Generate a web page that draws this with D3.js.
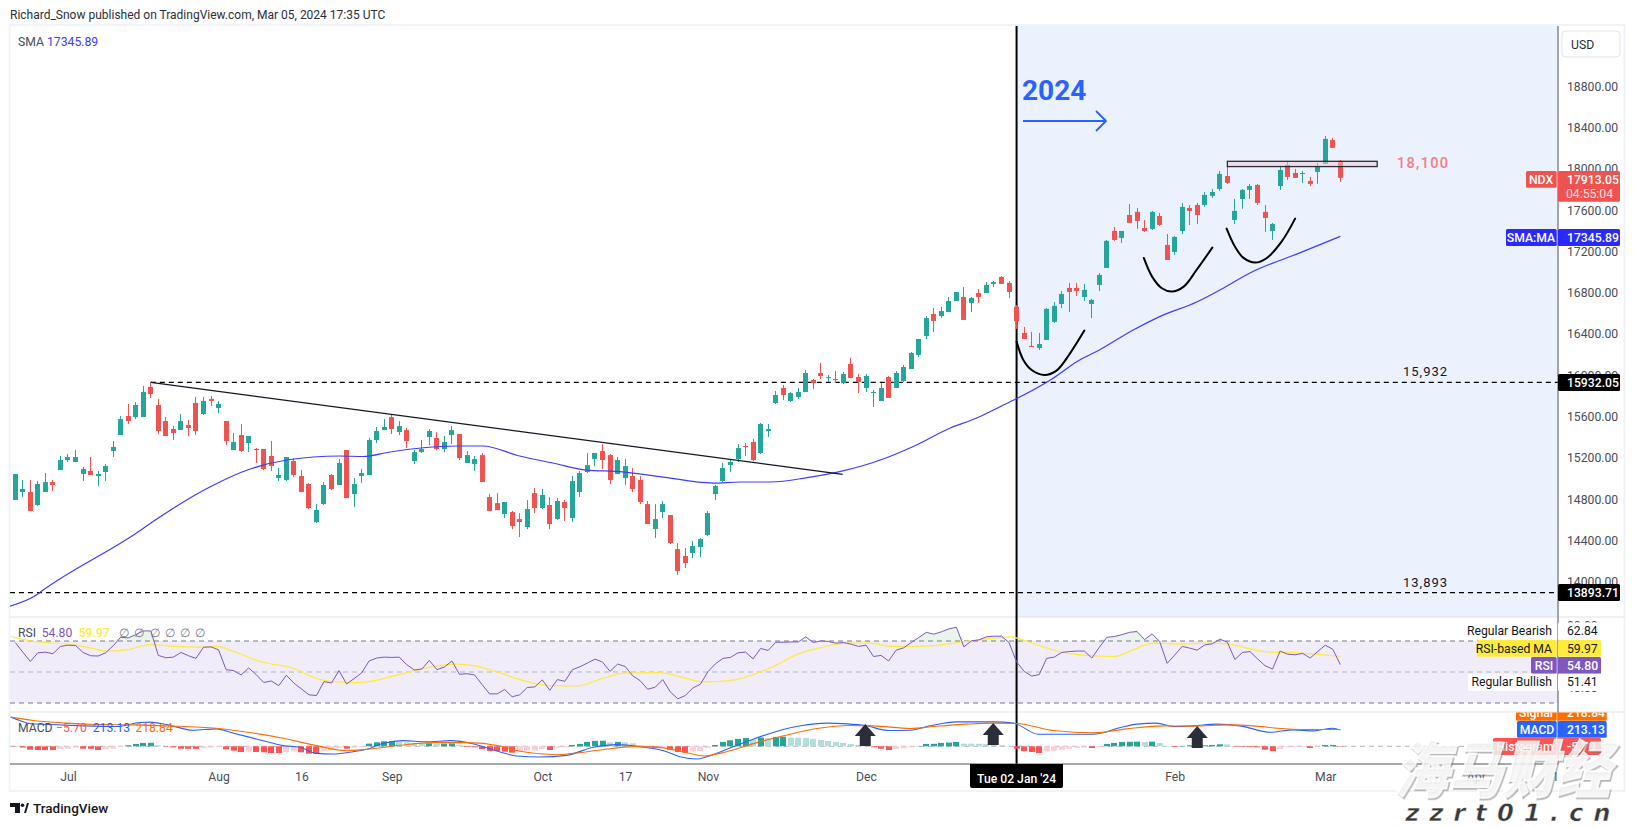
<!DOCTYPE html>
<html>

<head>
    <meta charset="utf-8">
    <script src="https://d3js.org/d3.v7.min.js"></script>
    <title>NDX daily</title>
    <style>
        body { margin: 0; background: #fff; }
        svg { display: block; }
        text { font-family: Roboto, sans-serif; }
        .axis text { font-family: Roboto, sans-serif; font-size: 12.2px; fill: #4a4d58; }
        .axis path, .axis line { display: none; }
    </style>
</head>

<body>
    <div id="chart"></div>
</body>

<script>
    // daily candles
    const opens = [14792,14869,14869,14743,14869,14966,15082,15179,15160,15044,15073,15024,15063,15266,15421,15606,15596,15596,15887,15712,
        15557,15480,15470,15518,15732,15625,15770,15683,15557,15276,15421,15344,15286,15286,15218,15005,14985,15170,15024,14947,
        14578,14753,15034,14937,15276,14849,15024,15033,15373,15469,15595,15450,15469,15169,15256,15402,15392,15285,15421,15431,
        15150,15140,15227,14820,14762,14656,14675,14607,14530,14859,14714,14743,14607,14772,14617,14869,15063,15188,15266,15227,
        15043,15004,15024,14985,14752,14510,14675,14646,14316,14249,14278,14336,14452,14849,14976,15131,15189,15315,15354,15247,
        15460,15731,15877,15751,15790,15838,15954,16022,15974,15964,15925,16109,15983,15877,15828,15751,15983,15877,15945,16061,
        16197,16381,16594,16574,16613,16720,16759,16700,16797,16797,16885,16953,16895,16662,16410,16284,16265,16342,16517,16691,
        16846,16846,16759,16691,16875,17040,17398,17331,17553,17583,17427,17418,17544,17263,17195,17398,17621,17650,17650,17738,
        17805,17931,17505,17708,17796,17844,17583,17398,17834,18038,17960,17951,17883,17970,18048,18280,18077];
    const highs = [15044,14985,14985,14976,15053,14985,15218,15237,15276,15111,15208,15073,15140,15363,15606,15722,15741,15896,15935,15770,
        15596,15509,15625,15567,15790,15790,15799,15751,15557,15441,15528,15412,15295,15286,15363,15102,15208,15199,15082,14956,
        14753,14966,15044,15189,15276,15004,15092,15392,15499,15576,15615,15557,15489,15276,15373,15479,15450,15411,15508,15431,
        15266,15218,15247,14849,14859,14772,14685,14665,14791,14907,14898,14820,14811,14791,15024,15072,15247,15247,15334,15237,
        15208,15188,15101,15024,14782,14752,14782,14646,14375,14326,14394,14423,14685,14937,15150,15189,15334,15344,15383,15538,
        15528,15848,15906,15838,15877,16051,15964,16119,16003,16042,16032,16167,16012,16012,15857,15925,15993,16042,16100,16226,
        16352,16574,16652,16662,16759,16807,16855,16759,16836,16904,16914,16962,16914,16681,16468,16420,16410,16652,16710,16817,
        16895,16895,16885,16739,16991,17311,17437,17398,17660,17621,17505,17592,17573,17369,17350,17670,17650,17670,17776,17805,
        17980,18028,17708,17805,17854,17854,17650,17476,18019,18077,17999,17980,17922,18057,18319,18300,18086];
    const lows = [14792,14821,14685,14733,14869,14879,15082,15160,15160,14976,15034,14927,14976,15208,15421,15528,15576,15596,15780,15431,
        15412,15373,15470,15412,15421,15615,15702,15635,15325,15276,15257,15257,15150,15082,15073,14976,14976,15014,14869,14704,
        14569,14743,14888,14937,14811,14723,14956,15033,15344,15469,15431,15421,15295,15140,15247,15324,15276,15256,15334,15179,
        15150,15072,14966,14685,14694,14617,14510,14433,14510,14665,14704,14510,14597,14588,14578,14820,15053,15121,15092,14946,
        15043,14937,14869,14752,14559,14423,14617,14365,14065,14132,14229,14239,14442,14791,14966,15063,15160,15218,15169,15237,
        15402,15722,15760,15741,15770,15838,15867,15964,15935,15925,15916,15974,15828,15838,15693,15751,15780,15877,15935,16061,
        16177,16352,16419,16555,16613,16720,16536,16613,16700,16797,16855,16885,16749,16449,16352,16274,16245,16342,16507,16652,
        16614,16769,16720,16555,16817,17040,17302,17282,17476,17418,17389,17408,17447,17117,17166,17369,17457,17466,17631,17718,
        17786,17854,17466,17612,17708,17650,17389,17311,17796,17893,17912,17864,17834,17854,18048,18203,17873];
    const closes = [15044,14898,14685,14947,14966,14937,15179,15208,15208,15092,15034,15044,15121,15305,15576,15557,15712,15838,15819,15460,
        15412,15441,15557,15489,15460,15751,15751,15722,15363,15354,15266,15412,15276,15092,15121,15034,15208,15034,14869,14714,
        14695,14937,14898,15150,14811,14946,15053,15373,15460,15499,15479,15508,15363,15256,15285,15460,15285,15353,15469,15198,
        15227,15188,14966,14685,14694,14772,14539,14578,14704,14714,14840,14559,14782,14714,14975,15053,15130,15247,15179,14985,
        15179,15121,14898,14772,14559,14607,14752,14375,14103,14181,14346,14413,14665,14927,15102,15160,15295,15305,15179,15528,
        15479,15809,15809,15828,15838,16022,15925,15993,15983,15954,16012,15974,15935,15993,15838,15877,15780,16022,16080,16216,
        16352,16555,16526,16623,16720,16807,16536,16749,16759,16875,16904,16885,16807,16526,16352,16274,16303,16643,16672,16788,
        16807,16817,16827,16730,16972,17302,17311,17398,17476,17495,17398,17583,17457,17117,17340,17631,17592,17553,17747,17776,
        17951,17864,17592,17796,17834,17670,17524,17466,17989,17922,17912,17960,17854,18028,18290,18203,17913];

    // SMA, sampled along the line as [candle index, price]
    const smaPoints = [[-0.7,13764],[2.8,13871],[3.7,13919],[16,14467],[18.6,14598],[25.9,14920],[31.2,15092],[36.1,15179],[43.1,15218],[46.2,15213],
        [49.8,15257],[54.2,15298],[58.7,15315],[62.1,15315],[67,15218],[71.4,15150],[75.9,15082],[80.3,15066],[85.6,15019],[92.7,14956],
        [96.3,14966],[100.3,14966],[105.2,15008],[109.5,15066],[114.9,15179],[119.2,15308],[124.2,15489],[127.7,15586],[130.8,15696],[132.9,15770],
        [137.7,15964],[141,16132],[144,16245],[148.5,16439],[152,16568],[157,16713],[160,16826],[164,16991],[170.7,17188],[176,17346]];

    // one RSI value per candle
    const rsiValues = [69.0,62.8,56.8,62.4,62.8,61.8,66.5,67.3,67.1,62.6,60.5,60.3,62.4,66.9,72.4,72.0,74.1,76.5,76.5,60.7,
        59.2,59.6,62.6,60.5,58.8,66.0,66.2,64.3,51.5,50.9,48.1,52.6,48.3,43.2,44.2,41.2,47.9,42.9,39.1,35.3,
        34.8,43.8,42.9,50.9,42.3,45.7,49.4,57.1,59.0,59.6,59.4,59.6,54.7,51.3,51.9,57.5,51.5,53.2,57.1,48.5,
        48.9,48.1,41.9,35.9,35.9,38.7,34.0,35.3,40.0,40.4,44.9,38.2,45.1,44.0,51.5,53.4,55.8,58.3,56.4,50.4,
        55.1,53.6,47.6,44.4,38.9,40.2,45.1,37.2,32.7,34.8,39.7,42.1,50.2,55.3,58.8,59.4,62.4,62.8,58.5,65.2,
        63.9,69.2,69.2,69.4,69.4,72.7,69.0,70.1,69.7,68.6,69.0,68.0,66.5,67.3,60.0,60.7,57.1,64.1,65.6,69.0,
        72.2,75.6,74.4,75.9,77.8,78.9,66.2,70.1,70.7,72.7,73.1,73.1,69.0,56.6,50.4,47.4,48.3,58.8,59.6,62.6,
        63.2,63.5,63.5,59.0,66.0,72.4,72.9,74.1,75.6,76.1,70.9,74.6,69.7,55.6,60.9,66.5,65.4,64.1,67.5,68.2,
        71.2,69.2,58.1,62.6,63.2,58.5,54.1,51.9,63.5,61.5,61.1,62.0,59.0,63.2,67.3,64.7,54.8];
    const rsiMaPoints = [[-0.6,72.9],[2.4,69.7],[6.8,68.0],[9.5,66.0],[12.1,63.5],[14.8,64.3],[17.9,67.7],[21,66.5],[24.5,66.0],[26.7,66.5],
        [29,63.2],[32.5,56.8],[36.9,52.4],[40.5,45.1],[44,43.2],[45.8,43.2],[51.1,48.5],[55.1,53.2],[58.6,55.1],[60.9,54.1],
        [64.4,49.4],[67,45.1],[71,41.2],[74.6,41.0],[77.7,45.5],[81.2,49.4],[85.7,49.6],[88.3,46.8],[91.4,43.6],[94.9,44.4],
        [99.8,51.5],[104.3,62.2],[106.9,65.6],[110.5,68.6],[113.5,68.6],[116.6,66.5],[121.5,66.9],[125.5,69.2],[129.9,71.8],[132.2,72.7],
        [134.4,69.7],[138.8,63.0],[142.3,60.7],[145.9,60.0],[148.5,64.3],[151.2,68.6],[154.7,68.0],[158.3,68.6],[161,68.2],[163.6,65.4],
        [166.7,62.8],[170.2,62.4],[176,60.0]];

    // MACD histogram per candle, lines sampled as [candle index, value]
    const histValues = [-4,-17,-44,-48,-48.5,-49,-35,-31,-17,-31,-32,-48,-39,-31,-9,13,31,44,45,13,
        -4,-13,-31,-32,-33,-22,-17,-13,-39,-57,-74,-70,-74,-78,-87,-88,-74,-65,-78,-96,
        -97,-65,-52,-22,-31,-17,-9,35,52,65,66,61,52,44,35,39,31,35,37,17,
        -9,-13,-35,-61,-63,-70,-83,-65,-57,-56,-35,-48,-17,-13,17,31,57,70,72,52,
        57,52,39,13,-13,-17,-9,-44,-74,-83,-65,-61,-22,17,57,78,96,109,87,113,
        105,122,124,113,112,109,96,83,70,57,44,31,17,13,-13,-31,-48,-35,-26,-13,
        4,31,32,44,48,57,35,34,33,31,30,13,4,-30,-61,-74,-87,-65,-57,-44,
        -31,-22,-17,-22,-9,31,44,57,59,61,57,61,44,4,-9,4,13,-9,13,17,
        26,25,-4,-9,-10,-13,-44,-61,-35,-13,-12,-11,-22,-4,17,18,-5.7];
    const macdPoints = [[-0.6,379],[0.6,336],[1.9,296],[4.6,283],[9,266],[13.5,257],[16.6,310],[17.9,314],[20.1,283],[23.6,209],
        [26.7,227],[29,170],[32.5,83],[35.6,9],[37.8,-13],[40,-92],[42.2,-100],[44.9,-70],[46.7,-39],[48.9,39],
        [51.5,74],[54.7,57],[57.8,74],[60.9,31],[64.4,-74],[66.6,-126],[69.7,-140],[73.2,-118],[76.8,-13],[79.9,22],
        [83,-4],[86.1,-57],[88.3,-135],[90.5,-166],[91.9,-135],[95.4,-4],[98,92],[101.1,192],[104.3,266],[107.8,301],
        [110.5,292],[112.9,270],[116,205],[118.9,209],[121.5,266],[125,318],[129.9,318],[132.6,301],[135.9,157],[138.8,157],
        [143.2,157],[146.8,244],[149,288],[151.6,301],[153.8,257],[156.5,266],[159.6,288],[162.7,266],[166.7,183],[169.8,214],
        [172.4,201],[175,235],[176,213]];
    const signalPoints = [[-0.6,379],[2.4,336],[6.8,301],[11.2,283],[15.7,279],[20.1,266],[26.7,235],[31.2,179],[35.6,105],[40,9],
        [44,-57],[46.7,-39],[51.1,13],[55.5,48],[60,48],[64.4,4],[67,-65],[71.9,-109],[74.1,-92],[77.7,-48],
        [82.1,-4],[85.7,-17],[89.2,-83],[91.4,-126],[94.5,-70],[98.5,48],[102.5,148],[106.5,231],[110.9,270],[114,266],
        [118.9,231],[122,257],[126.4,288],[129.9,301],[133,296],[137.9,205],[143.2,174],[147.6,227],[152.5,266],[156.5,262],
        [161,279],[164.5,266],[167.6,235],[171.6,218],[176,219]];

    // drawings on the chart, [candle index, price]
    const trendLine = [[18,15932],[109.9,15040]];
    const cupOne = [[133,16326],[133.9,16148],[135,16051],[136.7,16003],[138.3,16045],[140.1,16213],[142,16433]];
    const cupTwo = [[149.9,17137],[151,16956],[152.3,16843],[153.6,16811],[155.2,16859],[156.9,17020],[159,17237]];
    const cupThree = [[160.9,17421],[162,17247],[163.1,17140],[164.7,17092],[166.2,17134],[168.2,17295],[170,17518]];
    const arrowIndexes = [112.9,129.9,157];

    // tick labels
    const priceTicks = [18800,18400,18000,17600,17200,16800,16400,16000,15600,15200,14800,14400,14000];
    const rsiTicks = [80,40];
    const dateTickIndexes = [7,27,38,50,70,81,92,113,154,174,194,204.5];
    const dateTickLabels = ["Jul","Aug","16","Sep","Oct","17","Nov","Dec","Feb","Mar","Apr","1"];

    const width = 1634, height = 827;
    const paneLeft = 10, axisX = 1558, paneRight = 1625;
    const paneTop = 26, rsiTop = 617, macdTop = 712, paneBottom = 764;
    const jan2 = 133;

    const UP = "#26a69a", DOWN = "#ef5350";

    const svg = d3.select("#chart").append("svg").attr("width", width).attr("height", height);

    const x = d3.scaleLinear().domain([0, 176]).range([15.3, 1340.3]);
    const y = d3.scaleLinear().domain([15932.05, 13893.71]).range([382.3, 592.7]);
    const yRsi = d3.scaleLinear().domain([30, 70]).range([703, 641]);
    const yMacd = d3.scaleLinear().domain([0, 213.13]).range([746.3, 729.9]);

    svg.append("clipPath").attr("id", "panes").append("rect")
        .attr("x", paneLeft).attr("y", paneTop).attr("width", axisX - paneLeft).attr("height", paneBottom - paneTop);
    svg.append("clipPath").attr("id", "macdPane").append("rect")
        .attr("x", paneLeft).attr("y", macdTop + 0.5).attr("width", paneRight - paneLeft).attr("height", paneBottom - macdTop);

    // pane backgrounds
    svg.append("rect").attr("x", x(jan2)).attr("y", paneTop).attr("width", axisX - x(jan2)).attr("height", rsiTop - paneTop).attr("fill", "#ebf1fd");
    svg.append("rect").attr("x", paneLeft).attr("y", yRsi(70)).attr("width", axisX - paneLeft).attr("height", yRsi(30) - yRsi(70)).attr("fill", "#f0ecf9");

    // frame
    const frame = svg.append("g").attr("stroke", "#e0e3eb").attr("fill", "none");
    frame.append("rect").attr("x", paneLeft - 0.5).attr("y", paneTop - 1).attr("width", paneRight - paneLeft).attr("height", 766).attr("stroke", "#f0f3fa").attr("stroke-width", 2);
    frame.append("line").attr("x1", paneLeft).attr("x2", paneRight).attr("y1", rsiTop).attr("y2", rsiTop);
    frame.append("line").attr("x1", paneLeft).attr("x2", paneRight).attr("y1", macdTop).attr("y2", macdTop);

    // vertical marker, sits under the candles
    svg.append("line").attr("x1", x(jan2)).attr("x2", x(jan2)).attr("y1", paneTop).attr("y2", paneBottom)
        .attr("stroke", "#000").attr("stroke-width", 2);

    const plot = svg.append("g").attr("clip-path", "url(#panes)");

    // horizontal levels
    const dashed = (yPos, x1, color, dash, sw) => plot.append("line")
        .attr("x1", x1).attr("x2", axisX).attr("y1", yPos).attr("y2", yPos)
        .attr("stroke", color).attr("stroke-width", sw).attr("stroke-dasharray", dash);
    dashed(y(15932.05), x(18), "#000", "5 4", 1.3);
    dashed(y(13893.71), paneLeft, "#000", "5 4", 1.3);
    dashed(yRsi(70), paneLeft, "#787b86", "5 4", 1);
    dashed(yRsi(50), paneLeft, "#b2b5be", "5 4", 1);
    dashed(yRsi(30), paneLeft, "#787b86", "5 4", 1);
    dashed(yMacd(0), paneLeft, "#b2b5be", "5 4", 1);

    // candles
    const candles = plot.append("g").selectAll("g").data(opens).enter().append("g")
        .attr("fill", (d, i) => closes[i] >= d ? UP : DOWN);
    candles.append("rect")
        .attr("x", (d, i) => Math.round(x(i) - 0.5)).attr("width", 1)
        .attr("y", (d, i) => y(highs[i]))
        .attr("height", (d, i) => y(lows[i]) - y(highs[i]));
    candles.append("rect")
        .attr("x", (d, i) => Math.round(x(i) - 0.5) - 2).attr("width", 5)
        .attr("y", (d, i) => y(Math.max(d, closes[i])))
        .attr("height", (d, i) => Math.max(1, Math.abs(y(d) - y(closes[i]))));

    const priceLine = d3.line().x(d => x(d[0])).y(d => y(d[1]));

    plot.append("path").datum(smaPoints).attr("fill", "none").attr("stroke", "#3f3bff").attr("stroke-width", 1.2)
        .attr("d", priceLine.curve(d3.curveMonotoneX));

    // trend line and the 18,100 box
    plot.append("path").datum(trendLine).attr("fill", "none").attr("stroke", "#131722").attr("stroke-width", 1.2)
        .attr("d", priceLine.curve(d3.curveLinear));
    plot.append("rect").attr("x", x(161)).attr("width", x(180.9) - x(161))
        .attr("y", y(18073)).attr("height", y(18022) - y(18073))
        .attr("fill", "#f2c9d5").attr("fill-opacity", 0.5).attr("stroke", "#2a2e39").attr("stroke-width", 1.3);

    // hand drawn cups
    [cupOne, cupTwo, cupThree].forEach(cup => {
        plot.append("path").datum(cup).attr("fill", "none").attr("stroke", "#000").attr("stroke-width", 2).attr("stroke-linecap", "round")
            .attr("d", priceLine.curve(d3.curveCatmullRom));
    });

    // RSI pane
    const rsiLine = d3.line().x((d, i) => x(i)).y(d => yRsi(d));
    const rsiArea = d3.area().x((d, i) => x(i)).y0(yRsi(70)).y1(d => yRsi(Math.max(d, 70)));
    plot.append("path").datum(rsiValues).attr("fill", "#4caf50").attr("fill-opacity", 0.12).attr("d", rsiArea);
    plot.append("path").datum(rsiMaPoints).attr("fill", "none").attr("stroke", "#ffeb3b").attr("stroke-width", 1.2)
        .attr("d", d3.line().x(d => x(d[0])).y(d => yRsi(d[1])).curve(d3.curveMonotoneX));
    plot.append("path").datum(rsiValues).attr("fill", "none").attr("stroke", "#7e57c2").attr("stroke-width", 1).attr("d", rsiLine);

    // MACD pane
    const histColor = (d, i) => {
        const prev = i > 0 ? histValues[i - 1] : d;
        if (d >= 0) return prev < d ? "#26a69a" : "#b2dfdb";
        return prev < d ? "#ffcdd2" : "#ff5252";
    };
    plot.append("g").selectAll("rect").data(histValues).enter().append("rect")
        .attr("x", (d, i) => Math.round(x(i) - 3)).attr("width", 6)
        .attr("y", d => Math.min(yMacd(d), yMacd(0)))
        .attr("height", d => Math.abs(yMacd(d) - yMacd(0)))
        .attr("fill", histColor);
    const macdLine = d3.line().x(d => x(d[0])).y(d => yMacd(d[1])).curve(d3.curveMonotoneX);
    plot.append("path").datum(macdPoints).attr("fill", "none").attr("stroke", "#2962ff").attr("stroke-width", 1.1).attr("d", macdLine);
    plot.append("path").datum(signalPoints).attr("fill", "none").attr("stroke", "#ff6d00").attr("stroke-width", 1.1).attr("d", macdLine);

    svg.append("g").selectAll("path").data(arrowIndexes).enter().append("path")
        .attr("transform", (d, i) => `translate(${x(d)},${[724, 723, 726][i]})`)
        .attr("fill", "#2a2e39")
        .attr("d", "M0 0L10.5 12H5.5V22H-5.5V12H-10.5Z");

    // axis lines
    svg.append("line").attr("x1", axisX).attr("x2", axisX).attr("y1", paneTop).attr("y2", paneBottom).attr("stroke", "#50535e").attr("stroke-width", 1);
    svg.append("line").attr("x1", paneLeft).attr("x2", axisX).attr("y1", paneBottom).attr("y2", paneBottom).attr("stroke", "#50535e").attr("stroke-width", 1);

    svg.append("g").attr("class", "axis").attr("transform", `translate(${axisX},0)`)
        .call(d3.axisRight(y).tickValues(priceTicks).tickFormat(d3.format(".2f")).tickSize(0).tickPadding(9));
    svg.append("g").attr("class", "axis").attr("transform", `translate(${axisX},0)`)
        .call(d3.axisRight(yRsi).tickValues(rsiTicks).tickFormat(d3.format(".2f")).tickSize(0).tickPadding(9));
    svg.append("g").attr("class", "axis").attr("transform", `translate(0,${paneBottom})`)
        .call(d3.axisBottom(x).tickValues(dateTickIndexes).tickFormat((d, i) => dateTickLabels[i]).tickSize(0).tickPadding(8));

    const label = (str, xPos, yPos, opts = {}) => svg.append("text").text(str)
        .attr("x", xPos).attr("y", yPos)
        .attr("dy", "0.35em")
        .attr("font-size", opts.size || 12.2)
        .attr("fill", opts.color || "#131722")
        .attr("font-weight", opts.weight || 400)
        .attr("text-anchor", opts.anchor || "start")
        .attr("letter-spacing", opts.spacing || 0)
        .attr("opacity", opts.opacity || 1)
        .attr("clip-path", opts.clip || null);

    const box = (x0, x1, y0, y1, fill, clip) => svg.append("rect")
        .attr("x", x0).attr("y", y0).attr("width", x1 - x0).attr("height", y1 - y0)
        .attr("fill", fill).attr("rx", 1.5)
        .attr("clip-path", clip || null);

    // header and pane legends
    label("Richard_Snow published on TradingView.com, Mar 05, 2024 17:35 UTC", 10, 15, { size: 12, color: "#2a2e39" });
    label("SMA", 18, 41.5, { color: "#4a4d58" });
    label("17345.89", 47, 41.5, { color: "#3f3bff" });
    label("RSI", 18, 632.7, { color: "#4a4d58" });
    label("54.80", 41.7, 632.7, { color: "#7e57c2" });
    label("59.97", 78.7, 632.7, { color: "#ffeb3b", weight: 500 });
    [119, 134, 150, 165, 180, 195].forEach(p => label("∅", p, 632.7, { color: "#787b86" }));
    label("MACD", 18, 727.7, { color: "#4a4d58" });
    label("−5.70", 56, 727.7, { color: "#ff5252" });
    label("213.13", 92.7, 727.7, { color: "#2962ff" });
    label("218.84", 135.3, 727.7, { color: "#ff6d00" });

    // annotations
    label("2024", 1022, 90, { size: 28, weight: 700, color: "#2962ff" });
    svg.append("path").attr("fill", "none").attr("stroke", "#2962ff").attr("stroke-width", 1.8).attr("stroke-linejoin", "round")
        .attr("d", "M1023 121H1106M1096 111L1106 121L1096 131");
    label("18,100", 1397, 163, { size: 14.5, color: "#f77c80", spacing: 1.3, weight: 500 });
    label("15,932", 1403, 371, { size: 13, color: "#131722", spacing: 1 });
    label("13,893", 1403, 582.5, { size: 13, color: "#131722", spacing: 1 });

    // USD button
    svg.append("rect").attr("x", 1562).attr("y", 31).attr("width", 58).attr("height", 26).attr("rx", 4)
        .attr("fill", "#fff").attr("stroke", "#e0e3eb");
    label("USD", 1571, 44.5, { color: "#2a2e39" });

    // price scale tags
    box(1526, 1556.7, 171, 187.7, DOWN);
    label("NDX", 1541, 179.5, { color: "#fff", weight: 500, anchor: "middle" });
    box(1558, 1620, 171, 201.7, DOWN);
    label("17913.05", 1567, 179.5, { color: "#fff", weight: 500 });
    label("04:55:04", 1566, 193.7, { color: "#fff", opacity: 0.8 });

    box(1506, 1556.7, 229, 246, "#2a2aff");
    label("SMA:MA", 1531, 237.5, { color: "#fff", weight: 500, anchor: "middle" });
    box(1558, 1620, 229, 246, "#2a2aff");
    label("17345.89", 1567, 237.5, { color: "#fff", weight: 500 });

    box(1558, 1620, 374, 391, "#000");
    label("15932.05", 1567, 382.5, { color: "#fff", weight: 500 });
    box(1558, 1620, 584, 601, "#000");
    label("13893.71", 1567, 592.5, { color: "#fff", weight: 500 });

    // RSI tags
    box(1466, 1557, 622.5, 640, "#fff");
    box(1558, 1601, 622.5, 640, "#fff");
    label("Regular Bearish", 1552, 631, { color: "#131722", anchor: "end" });
    label("62.84", 1567, 631, { color: "#131722" });
    box(1477, 1556.7, 640, 656.7, "#ffeb3b");
    label("RSI-based MA", 1552, 648.5, { color: "#131722", anchor: "end" });
    box(1558, 1601, 640, 656.7, "#ffeb3b");
    label("59.97", 1567, 648.5, { color: "#131722" });
    box(1531, 1556.7, 657, 673.7, "#7e57c2");
    label("RSI", 1544, 665.5, { color: "#fff", weight: 500, anchor: "middle" });
    box(1558, 1601, 657, 673.7, "#7e57c2");
    label("54.80", 1567, 665.5, { color: "#fff", weight: 500 });
    box(1468, 1557, 673.7, 691, "#fff");
    box(1558, 1601, 673.7, 691, "#fff");
    label("Regular Bullish", 1552, 682, { color: "#131722", anchor: "end" });
    label("51.41", 1567, 682, { color: "#131722" });

    // MACD tags, the top one is cut by the pane edge
    box(1516, 1556.7, 704, 720.7, "#ff6d00", "url(#macdPane)");
    label("Signal", 1536, 712.5, { color: "#fff", weight: 500, anchor: "middle", clip: "url(#macdPane)" });
    box(1558, 1606.7, 704, 720.7, "#ff6d00", "url(#macdPane)");
    label("218.84", 1567, 712.5, { color: "#fff", weight: 500, clip: "url(#macdPane)" });
    box(1517, 1556.7, 721, 737.7, "#2962ff");
    label("MACD", 1537, 729.5, { color: "#fff", weight: 500, anchor: "middle" });
    box(1558, 1606.7, 721, 737.7, "#2962ff");
    label("213.13", 1567, 729.5, { color: "#fff", weight: 500 });
    box(1493, 1556.7, 738, 755, "#ff5252");
    label("Histogram", 1525, 746.5, { color: "#fff", weight: 500, anchor: "middle" });
    box(1558, 1601, 738, 755, "#ff5252");
    label("-5.70", 1567, 746.5, { color: "#fff", weight: 500 });

    // crosshair date
    svg.append("path").attr("fill", "#000").attr("d", "M970 764H1063V786a2 2 0 0 1 -2 2H972a2 2 0 0 1 -2 -2Z");
    label("Tue 02 Jan '24", x(jan2), 778.5, { color: "#fff", anchor: "middle", weight: 500 });

    // TradingView mark
    const logo = svg.append("g").attr("fill", "#131722");
    logo.append("path").attr("d", "M10 803H20V813H15V807H10Z");
    logo.append("circle").attr("cx", 22.5).attr("cy", 805.2).attr("r", 1.8);
    logo.append("path").attr("d", "M24 813L27 803H29L26 813Z");
    label("TradingView", 33, 808, { size: 13.5, weight: 500, color: "#131722" });

    // site watermark over the corner
    const wm = svg.append("g");
    [[1.5, "#777", 0.35], [0, "#fff", 0.78]].forEach(([off, color, alpha]) => {
        wm.append("text").text("海马财经")
            .attr("transform", `translate(${1394 + off},${792 + off}) skewX(-14) scale(1,1.14)`)
            .attr("font-size", 54).attr("font-weight", 900)
            .style("font-family", "'Noto Sans CJK SC'")
            .attr("fill", color).attr("fill-opacity", alpha)
            .attr("stroke", color).attr("stroke-opacity", alpha).attr("stroke-width", 1.4);
    });
    wm.append("text").text("zzrt01.cn")
        .attr("transform", "translate(1404,821) skewX(-12)")
        .attr("font-size", 24).attr("font-weight", 700).attr("letter-spacing", 10)
        .style("font-family", "'DejaVu Sans'")
        .attr("fill", "#3a3a3a").attr("stroke", "#fff").attr("stroke-width", 0.5);
</script>

</html>
